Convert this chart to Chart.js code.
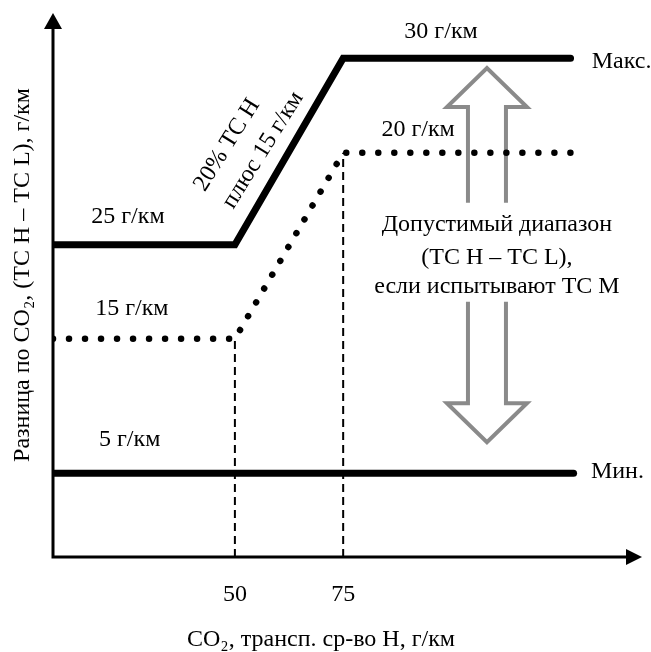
<!DOCTYPE html>
<html>
<head>
<meta charset="utf-8">
<script src="https://cdn.jsdelivr.net/npm/chart.js@4"></script>
<style>
  html, body { margin: 0; padding: 0; background: #fff; }
  #wrap { width: 651px; height: 652px; }
</style>
</head>
<body>
<div id="wrap"><canvas id="chart" width="651" height="652"></canvas></div>
<script>
// Уровни схемы (по оси Y — условные единицы высоты графика)
const xBreaks = [8, 50, 75, 127.5];        // начало, перелом 50, перелом 75, конец
const maxLevel = [57.4, 57.4, 91.7, 91.7];
const midLevel = [40.1, 40.1, 74.3, 74.3];
const minX = [8, 128.2];
const minLevel = [15.4, 15.4];
const xTicks = [50, 75];

const FONT = '"Liberation Serif", "Times New Roman", serif';

const pts = (xs, ys) => xs.map((x, i) => ({ x, y: ys[i] }));

// Надписи: [текст, x, y, выравнивание]
const labels = [
  ['25 г/км', 25.3, 62.5, 'center'],
  ['15 г/км', 26.2, 45.6, 'center'],
  ['5 г/км', 25.7, 21.5, 'center'],
  ['30 г/км', 97.6, 96.5, 'center'],
  ['20 г/км', 92.3, 78.5, 'center'],
  ['Макс.', 132.4, 91.0, 'left'],
  ['Мин.', 132.2, 15.6, 'left'],
  ['Допустимый диапазон', 110.5, 61.0, 'center'],
  ['(ТС Н – ТС L),', 110.5, 55.1, 'center'],
  ['если испытывают ТС М', 110.5, 49.6, 'center']
];

// Стрелка диапазона
const rangeX = 108.2;
const rangeTop = 89.9, rangeBottom = 21.1;
const shaftGapTop = 65.1, shaftGapBottom = 46.9;

const schemePlugin = {
  id: 'scheme',
  beforeDatasetsDraw(chart) {
    const { ctx, scales: { x, y } } = chart;
    ctx.save();
    // двусторонняя контурная стрелка
    const cx = x.getPixelForValue(rangeX);
    const t = y.getPixelForValue(rangeTop), b = y.getPixelForValue(rangeBottom);
    const g1 = y.getPixelForValue(shaftGapTop), g2 = y.getPixelForValue(shaftGapBottom);
    const sw = 19, hw = 40, hl = 39;
    ctx.strokeStyle = '#8a8a8a';
    ctx.lineWidth = 4;
    ctx.lineJoin = 'miter';
    ctx.beginPath();
    ctx.moveTo(cx - sw, g1);
    ctx.lineTo(cx - sw, t + hl);
    ctx.lineTo(cx - hw, t + hl);
    ctx.lineTo(cx, t);
    ctx.lineTo(cx + hw, t + hl);
    ctx.lineTo(cx + sw, t + hl);
    ctx.lineTo(cx + sw, g1);
    ctx.moveTo(cx - sw, g2);
    ctx.lineTo(cx - sw, b - hl);
    ctx.lineTo(cx - hw, b - hl);
    ctx.lineTo(cx, b);
    ctx.lineTo(cx + hw, b - hl);
    ctx.lineTo(cx + sw, b - hl);
    ctx.lineTo(cx + sw, g2);
    ctx.stroke();
    ctx.restore();
  },
  afterDatasetsDraw(chart) {
    const { ctx, chartArea: a, scales: { x, y } } = chart;
    ctx.save();
    // оси со стрелками
    ctx.strokeStyle = '#000';
    ctx.fillStyle = '#000';
    ctx.lineWidth = 3;
    ctx.beginPath();
    ctx.moveTo(a.left, a.top + 10);
    ctx.lineTo(a.left, a.bottom);
    ctx.lineTo(a.right - 10, a.bottom);
    ctx.stroke();
    ctx.beginPath();
    ctx.moveTo(a.left, a.top);
    ctx.lineTo(a.left - 9, a.top + 16);
    ctx.lineTo(a.left + 9, a.top + 16);
    ctx.closePath();
    ctx.fill();
    ctx.beginPath();
    ctx.moveTo(a.right, a.bottom);
    ctx.lineTo(a.right - 16, a.bottom - 8);
    ctx.lineTo(a.right - 16, a.bottom + 8);
    ctx.closePath();
    ctx.fill();

    ctx.font = '24px ' + FONT;
    ctx.textBaseline = 'middle';
    labels.forEach(([txt, lx, ly, al]) => {
      ctx.textAlign = al;
      ctx.fillText(txt, x.getPixelForValue(lx), y.getPixelForValue(ly));
    });

    ctx.textAlign = 'center';
    xTicks.forEach(v => ctx.fillText(String(v), x.getPixelForValue(v), a.bottom + 38));
    ctx.fillText('CO₂, трансп. ср-во Н, г/км', 321, a.bottom + 83);

    ctx.save();
    ctx.translate(23, 275);
    ctx.rotate(-Math.PI / 2);
    ctx.fillText('Разница по CO₂, (ТС Н – ТС L), г/км', 0, 0);
    ctx.restore();

    // подпись наклонного участка
    [['20% ТС Н', 227, 145], ['плюс 15 г/км', 263, 150]].forEach(([txt, px, py]) => {
      ctx.save();
      ctx.translate(px, py);
      ctx.rotate(-58 * Math.PI / 180);
      ctx.fillText(txt, 0, 0);
      ctx.restore();
    });
    ctx.restore();
  }
};

const lineStyle = { pointRadius: 0, fill: false, tension: 0, borderColor: '#000' };

new Chart(document.getElementById('chart'), {
  type: 'line',
  data: {
    datasets: [
      { ...lineStyle, data: [{ x: 50, y: 0 }, { x: 50, y: midLevel[1] }], borderWidth: 2, borderDash: [8, 5] },
      { ...lineStyle, data: [{ x: 75, y: 0 }, { x: 75, y: midLevel[2] }], borderWidth: 2, borderDash: [8, 5] },
      { ...lineStyle, data: pts(xBreaks, midLevel), borderWidth: 6.5, borderDash: [0.01, 16], borderCapStyle: 'round' },
      { ...lineStyle, data: pts(xBreaks, maxLevel), borderWidth: 7, borderCapStyle: 'round', borderJoinStyle: 'miter' },
      { ...lineStyle, data: pts(minX, minLevel), borderWidth: 7, borderCapStyle: 'round' }
    ]
  },
  options: {
    responsive: false,
    animation: false,
    layout: { padding: { left: 53, right: 9, top: 13, bottom: 95 } },
    plugins: { legend: { display: false }, tooltip: { enabled: false } },
    scales: {
      x: { type: 'linear', min: 8, max: 144, display: false },
      y: { type: 'linear', min: 0, max: 100, display: false }
    }
  },
  plugins: [schemePlugin]
});
</script>
</body>
</html>
